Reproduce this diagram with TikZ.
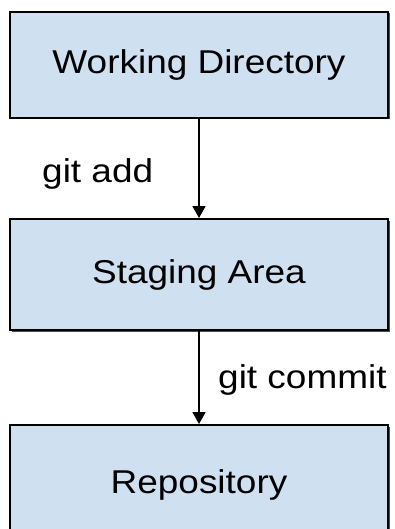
\documentclass[tikz,border=0pt]{standalone}
\usepackage{fontspec}
\setmainfont{Liberation Sans}[FakeStretch=1.12]
\usetikzlibrary{arrows.meta,shadows}
\definecolor{boxfill}{RGB}{207,224,241}
\tikzset{
  stagebox/.style={draw=black, line width=2pt, fill=boxfill, minimum width=378pt, inner sep=0pt,
    font=\fontsize{33}{38}\selectfont, drop shadow={shadow xshift=1.5pt, shadow yshift=-1.5pt, fill=black!70, opacity=1}},
  flow/.style={line width=1.8pt, -{Triangle[width=13pt,length=12pt]}},
  lbl/.style={font=\fontsize{33}{38}\selectfont, inner sep=0pt}
}
\begin{document}
\begin{tikzpicture}[x=1pt,y=-1pt]
\useasboundingbox (0,0) rectangle (394,529);
\clip (0,0) rectangle (394,529);
\node[stagebox, minimum height=106pt] (wd) at (199,65) {Working Directory};
\node[stagebox, minimum height=111pt] (sa) at (199,274.5) {Staging Area};
\node[stagebox, minimum height=120pt] (re) at (199,485) {Repository};
\draw[flow] (wd.south) -- (sa.north);
\draw[flow] (sa.south) -- (re.north);
\node[lbl, anchor=base west] (la) at (42,183) {git add};
\node[lbl, anchor=base west] (lc) at (218,388) {git commit};
\end{tikzpicture}
\end{document}
